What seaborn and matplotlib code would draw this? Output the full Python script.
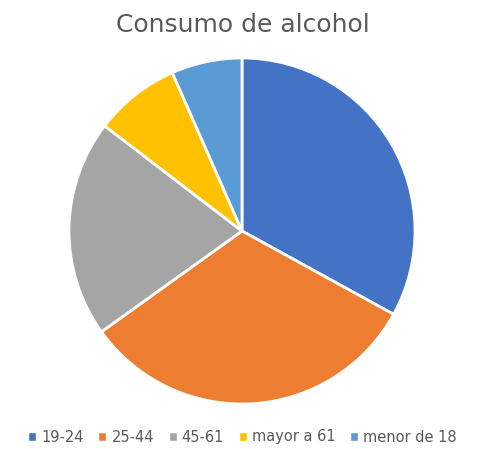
import matplotlib
matplotlib.use("Agg")
import matplotlib.pyplot as plt
import seaborn as sns
from matplotlib.patches import Patch

sns.set_theme(style="white")
plt.rcParams["font.family"] = ["DejaVu Sans"]
plt.rcParams["font.sans-serif"] = ["DejaVu Sans"]

categorias = ["19-24", "25-44", "45-61", "mayor a 61", "menor de 18"]
valores = [33.0, 32.1, 20.3, 8.0, 6.6]
colores = ["#4472C4", "#ED7D31", "#A5A5A5", "#FFC000", "#5B9BD5"]

W, H = 485, 449
fig = plt.figure(figsize=(W / 100, H / 100), dpi=100)
cx, cy, r = 242, 231, 173
ax = fig.add_axes([(cx - r) / W, (H - cy - r) / H, 2 * r / W, 2 * r / H])
ax.pie(valores, colors=colores, startangle=90, counterclock=False,
       wedgeprops={"edgecolor": "white", "linewidth": 2})
ax.set_xlim(-1.0, 1.0)
ax.set_ylim(-1.0, 1.0)
ax.set_aspect("equal")
ax.axis("off")

fig.text(0.5, 1 - 25 / H, "Consumo de alcohol", ha="center", va="center",
         fontsize=18, color="#595959", family="DejaVu Sans")

handles = [Patch(facecolor=c, label=l) for c, l in zip(colores, categorias)]
fig.legend(handles=handles, loc="center", bbox_to_anchor=(0.5, 1 - 437 / H),
           ncol=5, frameon=False, handlelength=0.55, handleheight=0.55,
           handletextpad=0.35, columnspacing=1.0, labelcolor="#595959",
           prop={"family": "DejaVu Sans", "size": 10.5})

fig.savefig("out.png", dpi=100)
